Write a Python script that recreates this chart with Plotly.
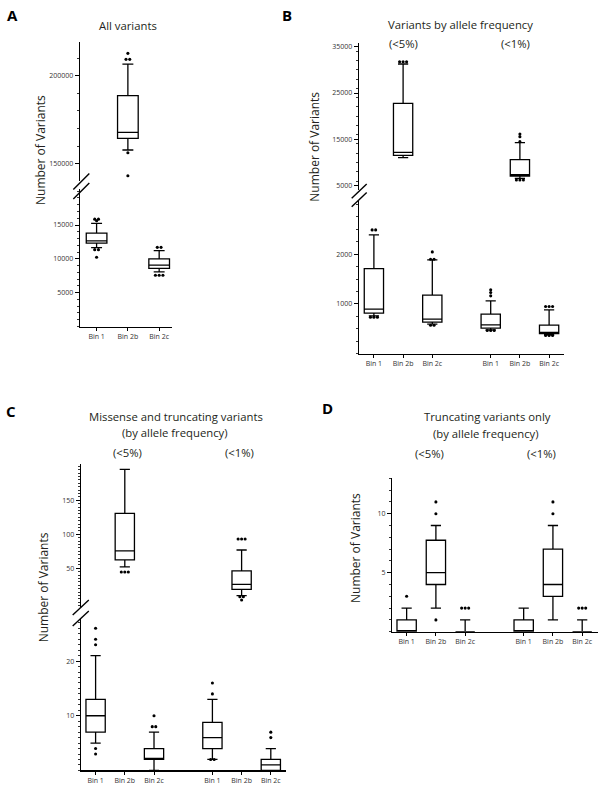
import plotly.graph_objects as go

W, H = 605, 792

# ---------------- DATA ----------------
bins3 = ["Bin 1", "Bin 2b", "Bin 2c"]
bins6 = ["Bin 1", "Bin 2b", "Bin 2c", "Bin 1", "Bin 2b", "Bin 2c"]
pos3 = [0, 1, 2]
pos6 = [0, 1, 2, 4, 5, 6]

# Panel A: all variants  (Bin 1, Bin 2b, Bin 2c)
A_q1 = [12330, 164390, 8590]
A_med = [12670, 167800, 9080]
A_q3 = [13790, 188640, 10000]
A_lo = [11650, 157770, 8060]
A_hi = [15240, 206630, 11210]
A_out = [[15870, 15870, 15630, 11360, 11360, 10240],
         [212690, 209280, 209280, 156250, 143180],
         [11700, 11700, 7570, 7570, 7570]]
A_top_idx = [1]          # boxes drawn in upper (broken) section
A_ticks_bot = [5000, 10000, 15000]
A_ticks_top = [150000, 200000]

# Panel B: variants by allele frequency (<5% then <1%)
B_q1 = [812, 11550, 631, 510, 7090, 403]
B_med = [893, 12190, 691, 577, 7370, 423]
B_q3 = [1711, 22770, 1174, 792, 10610, 570]
B_lo = [758, 11040, 591, 477, 6580, 376]
B_hi = [2389, 31260, 1886, 1060, 14280, 879]
B_out = [[2490, 2490, 732, 732, 732],
         [31760, 31760, 31760],
         [2047, 1899, 1899, 570, 570],
         [1282, 1228, 1161, 463, 463, 463],
         [16150, 15580, 14500, 6220, 6220, 6220],
         [946, 946, 946, 362, 362, 362]]
B_top_idx = [1, 4]
B_ticks_bot = [1000, 2000]
B_ticks_top = [5000, 15000, 25000, 35000]

# Panel C: missense and truncating variants
C_q1 = [7.0, 62.3, 2.0, 4.0, 19.1, 0.0]
C_med = [10.0, 75.5, 2.0, 6.0, 26.5, 1.0]
C_q3 = [13.0, 130.9, 4.0, 8.8, 46.1, 2.0]
C_lo = [5.0, 52.0, 0.0, 2.0, 9.8, 0.0]
C_hi = [21.0, 195.6, 7.0, 13.0, 76.9, 4.0]
C_out = [[26, 24, 23, 4, 3],
         [44.6, 44.6, 44.6],
         [10, 8, 8],
         [16, 14, 2, 2],
         [93, 93, 93, 8.3, 8.3, 3.4],
         [7, 6]]
C_top_idx = [1, 4]
C_ticks_bot = [10, 20]
C_ticks_top = [50, 100, 150]

# Panel D: truncating variants only
D_q1 = [0, 4, 0, 0, 3, 0]
D_med = [0, 5, 0, 0, 4, 0]
D_q3 = [1, 7.75, 0, 1, 7, 0]
D_lo = [0, 2, 0, 0, 1, 0]
D_hi = [2, 9, 1, 2, 9, 1]
D_out = [[3], [11, 10, 1], [2, 2, 2], [], [11, 10], [2, 2, 2]]
D_ticks = [5, 10]

# ---------------- HELPERS ----------------
FONT = "Open Sans"
def px_x(p):
    return p / W
def px_y(p):
    return 1 - p / H

fig = go.Figure()

def add_boxes(pos, q1, med, q3, lo, hi, outs, idxs, xa, ya):
    if not idxs:
        return
    fig.add_trace(go.Box(
        x=[pos[i] for i in idxs], q1=[q1[i] for i in idxs], median=[med[i] for i in idxs],
        q3=[q3[i] for i in idxs], lowerfence=[lo[i] for i in idxs], upperfence=[hi[i] for i in idxs],
        width=0.66, whiskerwidth=0.53, fillcolor="white", boxpoints=False,
        line=dict(color="black", width=1.3), xaxis=xa, yaxis=ya, hoverinfo="skip"))
    ox, oy = [], []
    for i in idxs:
        vals = outs[i]
        seen = {}
        for v in vals:
            seen[v] = seen.get(v, 0) + 1
        for v, n in seen.items():
            for k in range(n):
                ox.append(pos[i] + (k - (n - 1) / 2) * 0.12)
                oy.append(v)
    fig.add_trace(go.Scatter(x=ox, y=oy, mode="markers", xaxis=xa, yaxis=ya,
                             marker=dict(color="black", size=3.1), hoverinfo="skip"))

def split(n, top):
    return [i for i in range(n) if i not in top], list(top)

# Panel A
b, t = split(3, A_top_idx)
add_boxes(pos3, A_q1, A_med, A_q3, A_lo, A_hi, A_out, b, "x", "y")
add_boxes(pos3, A_q1, A_med, A_q3, A_lo, A_hi, A_out, t, "x", "y2")
# Panel B
b, t = split(6, B_top_idx)
add_boxes(pos6, B_q1, B_med, B_q3, B_lo, B_hi, B_out, b, "x2", "y3")
add_boxes(pos6, B_q1, B_med, B_q3, B_lo, B_hi, B_out, t, "x2", "y4")
# Panel C
b, t = split(6, C_top_idx)
add_boxes(pos6, C_q1, C_med, C_q3, C_lo, C_hi, C_out, b, "x3", "y5")
add_boxes(pos6, C_q1, C_med, C_q3, C_lo, C_hi, C_out, t, "x3", "y6")
# Panel D
add_boxes(pos6, D_q1, D_med, D_q3, D_lo, D_hi, D_out, list(range(6)), "x4", "y7")

tickfont = dict(family=FONT, size=7, color="#333333")
LW = 1.3

def xax(dom, rng, anchor, tv, tt):
    return dict(domain=[px_x(dom[0]), px_x(dom[1])], range=rng, anchor=anchor,
                tickmode="array", tickvals=tv, ticktext=tt, ticks="outside", ticklen=3,
                tickwidth=1, tickcolor="black", showline=True, linecolor="black",
                linewidth=LW, showgrid=False, zeroline=False, tickfont=tickfont,
                ticklabeloverflow="allow", fixedrange=True)

def yax(dom, rng, anchor, tv, minor_dt):
    return dict(domain=[px_y(dom[1]), px_y(dom[0])], range=rng, anchor=anchor,
                tickmode="array", tickvals=tv, ticktext=[str(v) for v in tv],
                ticks="outside", ticklen=4, tickwidth=1, tickcolor="black",
                minor=dict(ticks="outside", ticklen=2, tickwidth=0.8, tickcolor="black",
                           tickmode="linear", tick0=0, dtick=minor_dt),
                showline=True, linecolor="black", linewidth=LW, showgrid=False,
                zeroline=False, tickfont=tickfont, ticklabeloverflow="allow", fixedrange=True)

fig.update_layout(
    width=W, height=H, margin=dict(l=0, r=0, t=0, b=0),
    paper_bgcolor="white", plot_bgcolor="white", showlegend=False,
    hovermode=False,
    xaxis=xax((80, 172), [-0.53, 2.41], "y", pos3, bins3),
    yaxis=yax((189, 326.5), [0, 20325], "x", A_ticks_bot, 1000),
    yaxis2=yax((41.7, 181), [140170, 219320], "x", A_ticks_top, 10000),
    xaxis2=xax((359, 564), [-0.51, 6.51], "y3", pos6, bins6),
    yaxis3=yax((201, 353.5), [0, 3072], "x2", B_ticks_bot, 250),
    yaxis4=yax((43.3, 190), [4070, 35730], "x2", B_ticks_top, 2000),
    xaxis3=xax((81, 286), [-0.50, 6.52], "y5", pos6, bins6),
    yaxis5=yax((619, 770.4), [0, 27.7], "x3", C_ticks_bot, 1),
    yaxis6=yax((464, 607), [-6.9, 203.4], "x3", C_ticks_top, 5),
    xaxis4=xax((392.3, 597.7), [-0.49, 6.53], "y7", pos6, bins6),
    yaxis7=yax((478.3, 631.7), [0, 13.0], "x4", D_ticks, 1),
)

# break marks (two parallel slashes on broken axes)
def brk(x0, y0, x1, y1, dy):
    for d in (0, dy):
        fig.add_shape(type="line", xref="paper", yref="paper",
                      x0=px_x(x0), y0=px_y(y0 + d), x1=px_x(x1), y1=px_y(y1 + d),
                      line=dict(color="black", width=1.4))

brk(73.3, 189.5, 89.3, 173.5, 9.5)
brk(351.7, 198.3, 366.7, 184, 8.4)
brk(72.7, 615, 88.8, 600, 11)

def txt(s, x, y, size=11.3, bold=False, angle=0, color="#231f20"):
    fig.add_annotation(text=("<b>%s</b>" % s) if bold else s, x=px_x(x), y=px_y(y),
                       xref="paper", yref="paper", showarrow=False, textangle=angle,
                       xanchor="center", yanchor="middle",
                       font=dict(family=FONT, size=size, color=color))

for s, x, y in [("A", 12, 15), ("B", 287, 15), ("C", 11, 411), ("D", 327, 408)]:
    txt(s, x, y, size=15, bold=True, color="black")

txt("All variants", 128.3, 25)
txt("Variants by allele frequency", 460.5, 24.3)
txt("(&lt;5%)", 403, 43.3)
txt("(&lt;1%)", 515.3, 43.3)
txt("Missense and truncating variants", 175.7, 416.7)
txt("(by allele frequency)", 175, 432.7)
txt("(&lt;5%)", 127, 452.7)
txt("(&lt;1%)", 239.5, 452.7)
txt("Truncating variants only", 487.8, 416.7)
txt("(by allele frequency)", 486, 433.3)
txt("(&lt;5%)", 429, 453.3)
txt("(&lt;1%)", 541, 453.3)

for x, y in [(40, 150), (315, 146.7), (43.3, 587), (355, 548)]:
    txt("Number of Variants", x, y, size=12, angle=-90)

fig.write_html("out.html", config={"displayModeBar": False, "staticPlot": True},
               post_script="document.body.style.margin='0';document.body.style.overflow='hidden';")
